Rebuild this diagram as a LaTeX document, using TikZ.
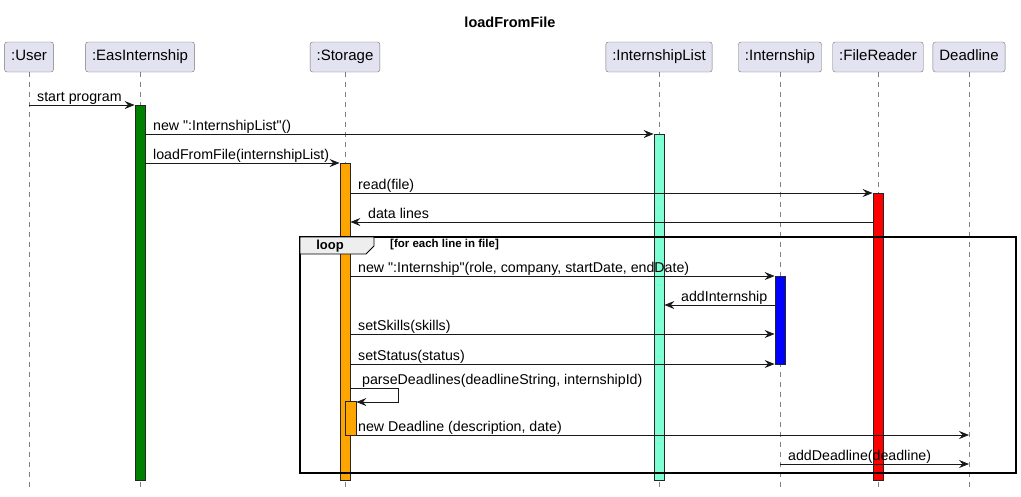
\documentclass[tikz,border=0pt]{standalone}
\usepackage{fontspec}
\setmainfont{Liberation Sans}
\usepackage{tikz}
\usetikzlibrary{positioning, arrows.meta}

\definecolor{partfill}{HTML}{E2E2F0}
\definecolor{tabfill}{HTML}{EEEEEE}
\definecolor{aqua}{HTML}{7FFFD4}
\definecolor{orng}{HTML}{FFA500}
\definecolor{grn}{HTML}{008000}

\tikzset{
    part/.style={draw=black!55, fill=partfill, rounded corners=2.5pt, minimum height=30pt, inner xsep=6.5pt, text height=11pt, text depth=3.5pt, font=\fontsize{15}{15}\selectfont},
    life/.style={draw=black!50, dash pattern=on 5pt off 5pt, line width=0.6pt},
    act/.style={draw=black!85, minimum width=10pt, inner sep=0pt, line width=0.8pt, anchor=north},
    msg/.style={->, draw=black!90, line width=0.8pt},
    lbl/.style={anchor=base west, inner sep=0pt, font=\fontsize{14.2}{14.2}\selectfont},
}

\begin{document}
\begin{tikzpicture}[x=1pt, y=-1pt, >={Stealth[length=10pt, width=8pt, inset=3.5pt]}]
    \useasboundingbox (0,0) rectangle (1021,496);
    \node[font=\bfseries\fontsize{14.5}{14.5}\selectfont] (title) at (510,22) {loadFromFile};

    % participants
    \node[part] (user) at (29,57) {:User};
    \node[part] (eas) at (140,57) {:EasInternship};
    \node[part] (stor) at (345,57) {:Storage};
    \node[part] (ilist) at (659,57) {:InternshipList};
    \node[part] (intern) at (780,57) {:Internship};
    \node[part] (freader) at (878,57) {:FileReader};
    \node[part] (dline) at (969,57) {Deadline};
    \foreach \p in {user, eas, stor, ilist, intern, freader, dline}
        \draw[life] (\p.south) -- (\p.south |- 0,490);

    % activations
    \node[act, fill=grn, minimum height=375pt] (aeas) at (140,105) {};
    \node[act, fill=aqua, minimum height=346pt] (ailist) at (659,134) {};
    \node[act, fill=orng, minimum height=317pt] (astor) at (345,163) {};
    \node[act, fill=red, minimum height=287pt] (afr) at (878,193) {};
    \node[act, fill=blue, minimum height=88pt] (aint) at (780,276) {};
    \node[act, fill=orng, minimum height=34pt, minimum width=11pt] (anest) at (350.5,401) {};

    % loop frame
    \draw[line width=1.5pt] (300,237) rectangle (1016,473);
    \draw[fill=tabfill, line width=0.8pt] (300,237) -- (374,237) -- (374,246) -- (366,254) -- (300,254) -- cycle;
    \node[font=\bfseries\fontsize{13}{13}\selectfont, inner sep=0pt] (looplbl) at (330,246) {loop};
    \node[font=\bfseries\fontsize{11.5}{11.5}\selectfont, inner sep=0pt, anchor=west] (loopcond) at (390,245) {[for each line in file]};

    % messages
    \draw[msg] (user |- 0,105) -- (aeas.west |- 0,105);
    \node[lbl] (m1) at (37,101) {start program};
    \draw[msg] (aeas.east |- 0,134) -- (ailist.west |- 0,134);
    \node[lbl] (m2) at (153,130) {new \textquotedbl:InternshipList\textquotedbl()};
    \draw[msg] (aeas.east |- 0,163) -- (astor.west |- 0,163);
    \node[lbl] (m3) at (153,159) {loadFromFile(internshipList)};
    \draw[msg] (astor.east |- 0,193) -- (afr.west |- 0,193);
    \node[lbl] (m4) at (358,189) {read(file)};
    \draw[msg] (afr.west |- 0,222) -- (astor.east |- 0,222);
    \node[lbl] (m5) at (368,218) {data lines};
    \draw[msg] (astor.east |- 0,276) -- (aint.west |- 0,276);
    \node[lbl] (m6) at (358,272) {new \textquotedbl:Internship\textquotedbl(role, company, startDate, endDate)};
    \draw[msg] (aint.west |- 0,305) -- (ailist.east |- 0,305);
    \node[lbl] (m7) at (681,301) {addInternship};
    \draw[msg] (astor.east |- 0,334) -- (aint.west |- 0,334);
    \node[lbl] (m8) at (358,330) {setSkills(skills)};
    \draw[msg] (astor.east |- 0,364) -- (aint.west |- 0,364);
    \node[lbl] (m9) at (358,360) {setStatus(status)};
    \draw[msg] (astor.east |- 0,388) -- (398,388) -- (398,402) -- (anest.east |- 0,402);
    \node[lbl] (m10) at (362,384) {parseDeadlines(deadlineString, internshipId)};
    \draw[msg] (anest.east |- 0,435) -- (dline |- 0,435);
    \node[lbl] (m11) at (358,431) {new Deadline (description, date)};
    \draw[msg] (intern |- 0,464) -- (dline |- 0,464);
    \node[lbl] (m12) at (788,460) {addDeadline(deadline)};
\end{tikzpicture}
\end{document}
